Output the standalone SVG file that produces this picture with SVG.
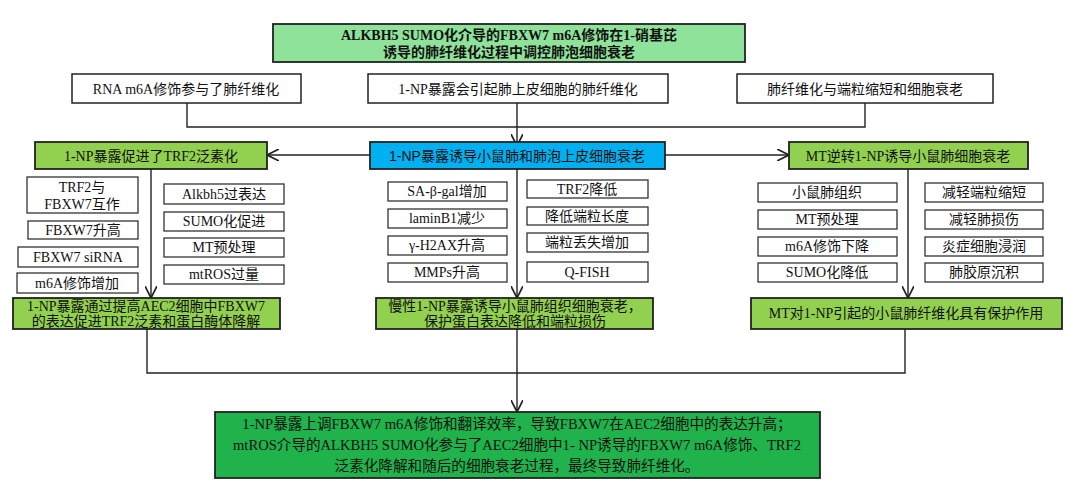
<svg xmlns="http://www.w3.org/2000/svg" width="1080" height="490" viewBox="0 0 1080 490">
<defs>
<style>
.t{font-family:"Liberation Serif","Noto Sans CJK SC",serif;font-size:14px;fill:#111;text-anchor:middle;dominant-baseline:central}
.b{font-weight:bold}
.s{font-family:"Liberation Sans","Noto Sans CJK SC",sans-serif}
.f{font-size:14.6px}
.box{fill:#fff;stroke:#222;stroke-width:1.5}
.sb{fill:#fff;stroke:#333;stroke-width:1.3}
.g{fill:#92d050;stroke:#222;stroke-width:1.8}
.bl{fill:#00b0f0;stroke:#222;stroke-width:1.8}
.ti{fill:#8fe29a;stroke:#222;stroke-width:1.8}
.fin{fill:#20b24b;stroke:#222;stroke-width:1.8}
.c{fill:none;stroke:#222;stroke-width:1.4}
</style>
<marker id="ar" viewBox="0 0 10 10" refX="10" refY="5" markerWidth="12" markerHeight="12" markerUnits="userSpaceOnUse" orient="auto">
<path d="M0,0 L10,5 L0,10" fill="none" stroke="#222" stroke-width="1.4"/>
</marker>
</defs>
<rect width="1080" height="490" fill="#fff"/>

<g id="connectors">
<path class="c" d="M187,103 V127 H865 V103"/>
<path class="c" d="M517,103 V146" marker-end="url(#ar)"/>
<path class="c" d="M370,155 H267" marker-end="url(#ar)"/>
<path class="c" d="M665,155 H789" marker-end="url(#ar)"/>
<path class="c" d="M151,169 V298" marker-end="url(#ar)"/>
<path class="c" d="M517,169 V298" marker-end="url(#ar)"/>
<path class="c" d="M908,169 V298" marker-end="url(#ar)"/>
<path class="c" d="M147,328 V373 H905 V328"/>
<path class="c" d="M517,328 V412" marker-end="url(#ar)"/>
</g>

<g id="title">
<rect class="ti" x="273" y="24" width="472" height="38"/>
<text class="t b" x="509" y="35">ALKBH5 SUMO化介导的FBXW7 m6A修饰在1-硝基芘</text>
<text class="t b" x="509" y="52">诱导的肺纤维化过程中调控肺泡细胞衰老</text>
</g>

<g id="top1"><rect class="box" x="72" y="74" width="229" height="29"/><text class="t" x="186" y="89">RNA m6A修饰参与了肺纤维化</text></g>
<g id="top2"><rect class="box" x="368" y="74" width="300" height="29"/><text class="t" x="518" y="89">1-NP暴露会引起肺上皮细胞的肺纤维化</text></g>
<g id="top3"><rect class="box" x="737" y="74" width="256" height="29"/><text class="t" x="865" y="89">肺纤维化与端粒缩短和细胞衰老</text></g>

<g id="leftHead"><rect class="g" x="35" y="142" width="232" height="27"/><text class="t" x="151" y="156">1-NP暴露促进了TRF2泛素化</text></g>
<g id="centerHead"><rect class="bl" x="370" y="142" width="295" height="27"/><text class="t s" x="517" y="156">1-NP暴露诱导小鼠肺和肺泡上皮细胞衰老</text></g>
<g id="rightHead"><rect class="g" x="789" y="142" width="239" height="27"/><text class="t" x="908" y="156">MT逆转1-NP诱导小鼠肺细胞衰老</text></g>

<g id="l1"><rect class="sb" x="27" y="177" width="111" height="36"/><text class="t" x="82" y="187">TRF2与</text><text class="t" x="82" y="204">FBXW7互作</text></g>
<g id="l2"><rect class="sb" x="28" y="221" width="110" height="18"/><text class="t" x="83" y="230">FBXW7升高</text></g>
<g id="l3"><rect class="sb" x="18" y="247" width="120" height="20"/><text class="t" x="78" y="257">FBXW7 siRNA</text></g>
<g id="l4"><rect class="sb" x="17" y="273" width="121" height="20"/><text class="t" x="77" y="283">m6A修饰增加</text></g>
<g id="l5"><rect class="sb" x="164" y="184" width="120" height="20"/><text class="t" x="224" y="194">Alkbh5过表达</text></g>
<g id="l6"><rect class="sb" x="164" y="212" width="120" height="19"/><text class="t" x="224" y="221.5">SUMO化促进</text></g>
<g id="l7"><rect class="sb" x="164" y="238" width="120" height="19"/><text class="t" x="224" y="247.5">MT预处理</text></g>
<g id="l8"><rect class="sb" x="164" y="265" width="120" height="19"/><text class="t" x="224" y="274.5">mtROS过量</text></g>

<g id="c1"><rect class="sb" x="388" y="182" width="119" height="19"/><text class="t" x="447" y="191.5">SA-β-gal增加</text></g>
<g id="c2"><rect class="sb" x="388" y="209" width="119" height="19"/><text class="t" x="447" y="218.5">laminB1减少</text></g>
<g id="c3"><rect class="sb" x="388" y="236" width="119" height="19"/><text class="t" x="447" y="245.5">γ-H2AX升高</text></g>
<g id="c4"><rect class="sb" x="388" y="263" width="119" height="19"/><text class="t" x="447" y="272.5">MMPs升高</text></g>
<g id="c5"><rect class="sb" x="527" y="180" width="121" height="18"/><text class="t" x="587" y="189">TRF2降低</text></g>
<g id="c6"><rect class="sb" x="527" y="207" width="121" height="18"/><text class="t" x="587" y="216">降低端粒长度</text></g>
<g id="c7"><rect class="sb" x="527" y="233" width="121" height="19"/><text class="t" x="587" y="242.5">端粒丢失增加</text></g>
<g id="c8"><rect class="sb" x="527" y="262" width="121" height="20"/><text class="t" x="587" y="272">Q-FISH</text></g>

<g id="r1"><rect class="sb" x="758" y="183" width="139" height="19"/><text class="t" x="827" y="192.5">小鼠肺组织</text></g>
<g id="r2"><rect class="sb" x="758" y="210" width="139" height="19"/><text class="t" x="827" y="219.5">MT预处理</text></g>
<g id="r3"><rect class="sb" x="758" y="237" width="139" height="19"/><text class="t" x="827" y="246.5">m6A修饰下降</text></g>
<g id="r4"><rect class="sb" x="758" y="263" width="139" height="19"/><text class="t" x="827" y="272.5">SUMO化降低</text></g>
<g id="r5"><rect class="sb" x="925" y="183" width="118" height="19"/><text class="t" x="984" y="192.5">减轻端粒缩短</text></g>
<g id="r6"><rect class="sb" x="925" y="210" width="118" height="19"/><text class="t" x="984" y="219.5">减轻肺损伤</text></g>
<g id="r7"><rect class="sb" x="925" y="237" width="118" height="19"/><text class="t" x="984" y="246.5">炎症细胞浸润</text></g>
<g id="r8"><rect class="sb" x="925" y="263" width="118" height="19"/><text class="t" x="984" y="272.5">肺胶原沉积</text></g>

<g id="leftResult"><rect class="g" x="13" y="298" width="267" height="31"/><text class="t" x="146" y="306">1-NP暴露通过提高AEC2细胞中FBXW7</text><text class="t" x="146" y="321.5">的表达促进TRF2泛素和蛋白酶体降解</text></g>
<g id="centerResult"><rect class="g" x="376" y="298" width="277" height="31"/><text class="t" x="515" y="306">慢性1-NP暴露诱导小鼠肺组织细胞衰老，</text><text class="t" x="515" y="321.5">保护蛋白表达降低和端粒损伤</text></g>
<g id="rightResult"><rect class="g" x="751" y="298" width="311" height="31"/><text class="t" x="906" y="313.5">MT对1-NP引起的小鼠肺纤维化具有保护作用</text></g>

<g id="final"><rect class="fin" x="215" y="412" width="605" height="66"/>
<text class="t f" x="517" y="424">1-NP暴露上调FBXW7 m6A修饰和翻译效率，导致FBXW7在AEC2细胞中的表达升高；</text>
<text class="t f" x="517" y="445">mtROS介导的ALKBH5 SUMO化参与了AEC2细胞中1- NP诱导的FBXW7 m6A修饰、TRF2</text>
<text class="t f" x="517" y="466">泛素化降解和随后的细胞衰老过程，最终导致肺纤维化。</text>
</g>
</svg>
